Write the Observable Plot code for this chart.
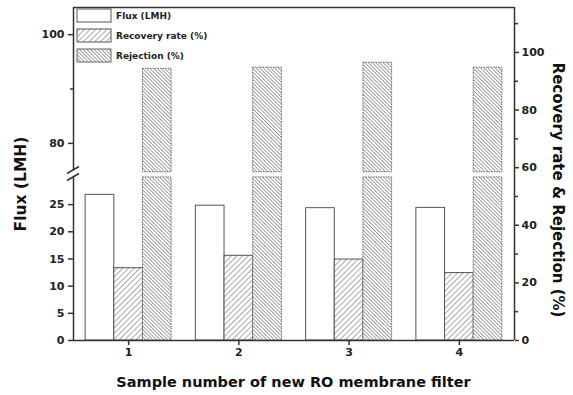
<!DOCTYPE html>
<html><head><meta charset="utf-8">
<script src="https://cdn.jsdelivr.net/npm/d3@7"></script>
<script src="https://cdn.jsdelivr.net/npm/@observablehq/plot@0.6"></script>
<style>body{margin:0;background:#fff}</style>
</head><body><div id="chart"></div>
<script>
// ---- data ----
const groups = [1, 2, 3, 4];
const seriesNames = ["Flux (LMH)", "Recovery rate (%)", "Rejection (%)"];
const fluxValues = [26.8, 24.8, 24.35, 24.4];          // LMH (left, broken axis)
const recoveryValues = [25.1, 29.4, 28.1, 23.4];       // % (right axis)
const rejectionValues = [94.3, 94.7, 96.4, 94.7];      // % (right axis)
const leftTicks = [0, 5, 10, 15, 20, 25, 80, 100];
const leftMinorTicks = [90];
const rightTicks = [0, 20, 40, 60, 80, 100];
const rightMinorTicks = [10, 30, 50, 70, 90, 110];
const xLabel = "Sample number of new RO membrane filter";
const leftLabel = "Flux (LMH)";
const rightLabel = "Recovery rate & Rejection (%)";

// ---- broken left axis: [0,30] and [75,105] mapped onto the shared y scale ----
const yTop = 115.6, lowerEnd = 56.6, upperStart = 59.0;
function fluxToY(v) {
  return v <= 30 ? v / 30 * lowerEnd : upperStart + (v - 75) / 30 * (yTop - upperStart);
}
const barGapLo = 56.6, barGapHi = 58.4;

const barW = 0.26;
const fluxRows = groups.map((g, i) => ({g, y: fluxToY(fluxValues[i])}));
const recRows = groups.map((g, i) => ({g, y: recoveryValues[i]}));
const rejRows = groups.map((g, i) => ({g, y: rejectionValues[i]}));
const leftMap = new Map(leftTicks.map(t => [fluxToY(t), String(t)]));

const axisStyle = {stroke: "#333", strokeWidth: 1.5, fill: "#222", fontSize: 11, fontWeight: "bold", label: null};

const plot = Plot.plot({
  width: 573, height: 395,
  marginLeft: 73, marginRight: 59, marginTop: 7, marginBottom: 55,
  style: {fontFamily: "DejaVu Sans", fontSize: "11px", fontWeight: "bold", color: "#222", background: "white"},
  x: {type: "linear", domain: [0.5, 4.5]},
  y: {domain: [0, yTop]},
  marks: [
    Plot.rectY(fluxRows, {x1: d => d.g - 1.5 * barW, x2: d => d.g - 0.5 * barW, y1: 0, y2: "y", fill: "white", stroke: "#555", strokeWidth: 1}),
    Plot.rectY(recRows, {x1: d => d.g - 0.5 * barW, x2: d => d.g + 0.5 * barW, y1: 0, y2: "y", fill: "url(#hatchR)", stroke: "#555", strokeWidth: 1}),
    Plot.rectY(rejRows, {x1: d => d.g + 0.5 * barW, x2: d => d.g + 1.5 * barW, y1: 0, y2: barGapLo, fill: "url(#hatchJ)", stroke: "#666", strokeWidth: 1, strokeDasharray: "1.5,1"}),
    Plot.rectY(rejRows, {x1: d => d.g + 0.5 * barW, x2: d => d.g + 1.5 * barW, y1: barGapHi, y2: "y", fill: "url(#hatchJ)", stroke: "#666", strokeWidth: 1, strokeDasharray: "1.5,1"}),
    // frame
    Plot.ruleX([0.5], {y1: 0, y2: lowerEnd, stroke: "#333", strokeWidth: 1.5}),
    Plot.ruleX([0.5], {y1: upperStart, y2: yTop, stroke: "#333", strokeWidth: 1.5}),
    Plot.ruleX([4.5], {y1: 0, y2: yTop, stroke: "#333", strokeWidth: 1.5}),
    Plot.ruleY([0, yTop], {stroke: "#333", strokeWidth: 1.5}),
    // axes
    Plot.axisY({...axisStyle, anchor: "left", ticks: leftTicks.map(fluxToY), tickFormat: v => leftMap.get(v) ?? "", tickSize: 5, tickPadding: 4}),
    Plot.axisY({...axisStyle, anchor: "left", ticks: leftMinorTicks.map(fluxToY), tickFormat: () => "", tickSize: 3}),
    Plot.axisY({...axisStyle, anchor: "right", ticks: rightTicks, tickFormat: d => String(d), tickSize: 4, tickPadding: 3}),
    Plot.axisY({...axisStyle, anchor: "right", ticks: rightMinorTicks, tickFormat: () => "", tickSize: 3}),
    Plot.axisX({...axisStyle, ticks: groups, tickFormat: d => String(d), tickSize: 5, tickPadding: 3})
  ]
});

const svg = d3.select(plot);
const defs = svg.insert("defs", ":first-child");
const pR = defs.append("pattern").attr("id", "hatchR").attr("patternUnits", "userSpaceOnUse")
  .attr("width", 4).attr("height", 4).attr("patternTransform", "rotate(45)");
pR.append("rect").attr("width", 4).attr("height", 4).attr("fill", "white");
pR.append("line").attr("x1", 0).attr("y1", 0).attr("x2", 0).attr("y2", 4).attr("stroke", "#555").attr("stroke-width", 1);
const pJ = defs.append("pattern").attr("id", "hatchJ").attr("patternUnits", "userSpaceOnUse")
  .attr("width", 2.6).attr("height", 4).attr("patternTransform", "rotate(-45)");
pJ.append("rect").attr("width", 2.6).attr("height", 4).attr("fill", "white");
pJ.append("line").attr("x1", 0).attr("y1", 0).attr("x2", 0).attr("y2", 4).attr("stroke", "#555").attr("stroke-width", 1.1);

const xs = plot.scale("x"), ys = plot.scale("y");
const x0 = xs.apply(0.5);
const yc = (ys.apply(lowerEnd) + ys.apply(upperStart)) / 2;
// axis break marks
const brk = svg.append("g").attr("stroke", "#333").attr("stroke-width", 1.5);
brk.append("line").attr("x1", x0 - 6).attr("y1", yc).attr("x2", x0 + 6).attr("y2", yc - 7);
brk.append("line").attr("x1", x0 - 6).attr("y1", yc + 7).attr("x2", x0 + 6).attr("y2", yc);

// axis titles
const t = svg.append("g").attr("font-family", "DejaVu Sans").attr("font-weight", "bold").attr("fill", "#111");
t.append("text").attr("transform", "translate(20.5,184) rotate(-90)").attr("text-anchor", "middle")
  .attr("dominant-baseline", "central").attr("font-size", 15.5).text(leftLabel);
t.append("text").attr("transform", "translate(558,190) rotate(90)").attr("text-anchor", "middle")
  .attr("dominant-baseline", "central").attr("font-size", 15).text(rightLabel);
t.append("text").attr("x", (xs.apply(0.5) + xs.apply(4.5)) / 2).attr("y", 382).attr("text-anchor", "middle")
  .attr("dominant-baseline", "central").attr("font-size", 14.5).text(xLabel);

// legend
const fills = ["white", "url(#hatchR)", "url(#hatchJ)"];
const strokes = ["#555", "#555", "#666"];
const lg = svg.append("g").attr("font-family", "DejaVu Sans").attr("font-weight", "bold").attr("font-size", 9).attr("fill", "#222");
seriesNames.forEach((name, i) => {
  const y = 9 + i * 20;
  lg.append("rect").attr("x", 77).attr("y", y).attr("width", 34).attr("height", 13)
    .attr("fill", fills[i]).attr("stroke", strokes[i]).attr("stroke-width", 1);
  lg.append("text").attr("x", 116).attr("y", y + 7).attr("text-anchor", "start")
    .attr("dominant-baseline", "central").text(name);
});

document.getElementById("chart").appendChild(plot);
</script>
</body></html>
